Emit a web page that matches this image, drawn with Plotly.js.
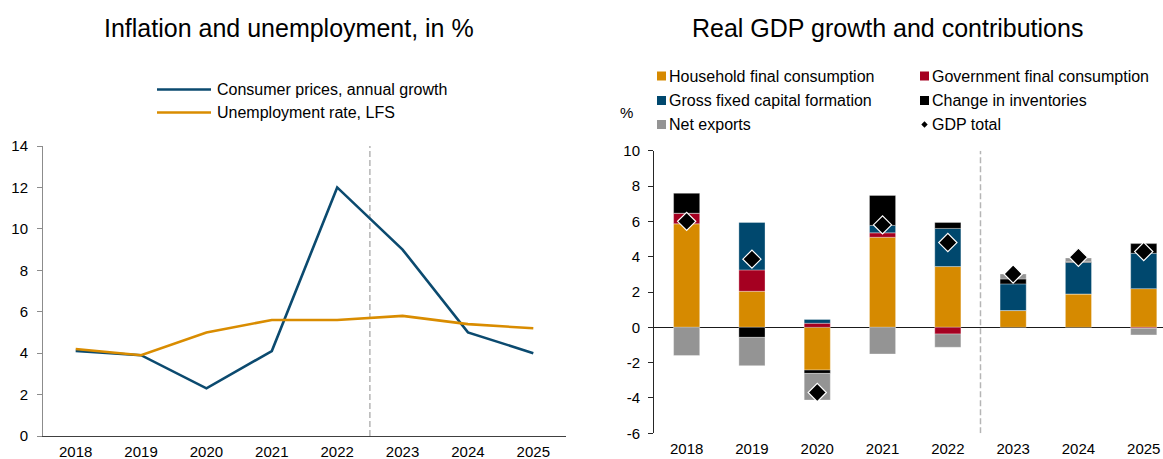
<!DOCTYPE html>
<html>
<head>
<meta charset="utf-8">
<script src="https://cdn.plot.ly/plotly-3.0.1.min.js"></script>
<style>
  html, body { margin: 0; padding: 0; background: #fff; }
  #chart { width: 1163px; height: 459px; }
</style>
</head>
<body>
<div id="chart"></div>
<script>
// ---- Data ----
const years = ['2018', '2019', '2020', '2021', '2022', '2023', '2024', '2025'];

// Left chart: inflation and unemployment, in %
const consumerPrices = [4.1, 3.9, 2.3, 4.1, 12.0, 9.0, 5.0, 4.0];
const unemploymentRate = [4.2, 3.9, 5.0, 5.6, 5.6, 5.8, 5.4, 5.2];

// Right chart: real GDP growth contributions, pp
const householdConsumption = [5.86, 2.04, -2.42, 5.10, 3.44, 0.95, 1.89, 2.19];
const governmentConsumption = [0.60, 1.21, 0.23, 0.25, -0.38, 0.00, 0.00, -0.05];
const grossFixedCapital = [0.00, 2.69, 0.22, 0.42, 2.16, 1.51, 1.78, 2.00];
const changeInventories = [1.13, -0.57, -0.19, 1.70, 0.34, 0.28, 0.05, 0.55];
const netExports = [-1.60, -1.60, -1.51, -1.51, -0.75, 0.28, 0.21, -0.38];
const gdpTotal = [6.00, 3.86, -3.69, 5.80, 4.80, 3.02, 3.97, 4.29];

const leftTicks = [0, 2, 4, 6, 8, 10, 12, 14];
const rightTicks = [-6, -4, -2, 0, 2, 4, 6, 8, 10];

// ---- Styles ----
const W = 1163, H = 459;
const px = x => x / W;
const py = y => 1 - y / H;
const FONT = 'Liberation Sans, Arial, sans-serif';
const C = {
  cpi: '#0B4A6F',
  unemp: '#D98C00',
  household: '#D68A00',
  government: '#A50021',
  gfcf: '#00486E',
  inventories: '#000000',
  netExports: '#949494'
};

const barLine = { color: 'rgba(255,255,255,0.55)', width: 0.6 };
function barTrace(name, values, color) {
  return {
    type: 'bar', name: name, x: years, y: values,
    xaxis: 'x2', yaxis: 'y2',
    marker: { color: color, line: barLine },
    showlegend: false
  };
}

const traces = [
  { type: 'scatter', mode: 'lines', name: 'Consumer prices, annual growth',
    x: years, y: consumerPrices, xaxis: 'x', yaxis: 'y',
    line: { color: C.cpi, width: 2.6 }, showlegend: false },
  { type: 'scatter', mode: 'lines', name: 'Unemployment rate, LFS',
    x: years, y: unemploymentRate, xaxis: 'x', yaxis: 'y',
    line: { color: C.unemp, width: 2.6 }, showlegend: false },
  barTrace('Household final consumption', householdConsumption, C.household),
  barTrace('Government final consumption', governmentConsumption, C.government),
  barTrace('Gross fixed capital formation', grossFixedCapital, C.gfcf),
  barTrace('Change in inventories', changeInventories, C.inventories),
  barTrace('Net exports', netExports, C.netExports),
  { type: 'scatter', mode: 'markers', name: 'GDP total',
    x: years, y: gdpTotal, xaxis: 'x2', yaxis: 'y2',
    marker: { symbol: 'diamond', size: 14, color: '#000', line: { color: '#fff', width: 1.2 } },
    showlegend: false }
];

// ---- Custom legends (shapes + text) ----
const shapes = [
  { type: 'line', xref: 'x', yref: 'y', x0: 4.5, x1: 4.5, y0: 0, y1: 14,
    line: { color: '#b5b5b5', width: 1.5, dash: '6px,3px' }, layer: 'below' },
  { type: 'line', xref: 'x2', yref: 'y2', x0: 4.5, x1: 4.5, y0: -6, y1: 10,
    line: { color: '#b5b5b5', width: 1.5, dash: '6px,3px' }, layer: 'below' },
  // left legend line samples
  { type: 'line', xref: 'paper', yref: 'paper', x0: px(157), x1: px(211), y0: py(89.5), y1: py(89.5),
    line: { color: C.cpi, width: 2.6 } },
  { type: 'line', xref: 'paper', yref: 'paper', x0: px(157), x1: px(211), y0: py(112.5), y1: py(112.5),
    line: { color: C.unemp, width: 2.6 } }
];
const annotations = [
  { text: 'Inflation and unemployment, in %', xref: 'paper', yref: 'paper',
    x: px(289), y: py(28), xanchor: 'center', yanchor: 'middle', showarrow: false,
    font: { family: FONT, size: 25, color: '#000' } },
  { text: 'Real GDP growth and contributions', xref: 'paper', yref: 'paper',
    x: px(887), y: py(28), xanchor: 'center', yanchor: 'middle', showarrow: false,
    font: { family: FONT, size: 25, color: '#000' } },
  { text: 'Consumer prices, annual growth', xref: 'paper', yref: 'paper',
    x: px(215), y: py(89.5), xanchor: 'left', yanchor: 'middle', showarrow: false,
    font: { family: FONT, size: 16, color: '#000' } },
  { text: 'Unemployment rate, LFS', xref: 'paper', yref: 'paper',
    x: px(215), y: py(112.5), xanchor: 'left', yanchor: 'middle', showarrow: false,
    font: { family: FONT, size: 16, color: '#000' } },
  { text: '%', xref: 'paper', yref: 'paper',
    x: px(626), y: py(113), xanchor: 'center', yanchor: 'middle', showarrow: false,
    font: { family: FONT, size: 15, color: '#000' } }
];

const rightLegend = [
  { name: 'Household final consumption', color: C.household, x: 657, y: 76 },
  { name: 'Government final consumption', color: C.government, x: 920, y: 76 },
  { name: 'Gross fixed capital formation', color: C.gfcf, x: 657, y: 100.5 },
  { name: 'Change in inventories', color: C.inventories, x: 920, y: 100.5 },
  { name: 'Net exports', color: C.netExports, x: 657, y: 124.5 },
  { name: 'GDP total', color: null, x: 920, y: 124.5 }
];
rightLegend.forEach(it => {
  if (it.color) {
    shapes.push({ type: 'rect', xref: 'paper', yref: 'paper',
      x0: px(it.x), x1: px(it.x + 9), y0: py(it.y + 4.5), y1: py(it.y - 4.5),
      fillcolor: it.color, line: { width: 0 } });
  } else {
    const cx = it.x + 4.5, cy = it.y, r = 3.2;
    shapes.push({ type: 'path', xref: 'paper', yref: 'paper',
      path: `M ${px(cx)},${py(cy - r)} L ${px(cx + r)},${py(cy)} L ${px(cx)},${py(cy + r)} L ${px(cx - r)},${py(cy)} Z`,
      fillcolor: '#000', line: { width: 0 } });
  }
  annotations.push({ text: it.name, xref: 'paper', yref: 'paper',
    x: px(it.x + 10), y: py(it.y), xanchor: 'left', yanchor: 'middle', showarrow: false,
    font: { family: FONT, size: 16, color: '#000' } });
});

const layout = {
  width: W, height: H,
  margin: { l: 0, r: 0, t: 0, b: 0, pad: 0 },
  paper_bgcolor: '#fff', plot_bgcolor: 'rgba(0,0,0,0)',
  font: { family: FONT, size: 15, color: '#000' },
  showlegend: false,
  barmode: 'relative',
  bargap: 0.6,
  xaxis: {
    domain: [px(43), px(566)], anchor: 'y', type: 'category', range: [-0.5, 7.5],
    showline: true, linecolor: '#404040', linewidth: 1, ticks: '',
    showgrid: false, zeroline: false, tickfont: { size: 15 }, ticklabelstandoff: 2
  },
  yaxis: {
    domain: [py(436), py(146)], anchor: 'x', range: [0, 14],
    tickvals: leftTicks, ticktext: leftTicks.map(String),
    showline: true, linecolor: '#8c8c8c', linewidth: 1,
    ticks: 'outside', ticklen: 5, tickcolor: '#8c8c8c', tickwidth: 1,
    showgrid: false, zeroline: false, tickfont: { size: 15 }, ticklabelstandoff: 6
  },
  xaxis2: {
    domain: [px(654), 1], anchor: 'y2', type: 'category', range: [-0.5, 7.295],
    showline: false, ticks: '', showgrid: false, zeroline: false,
    tickfont: { size: 15 }, ticklabelstandoff: 5
  },
  yaxis2: {
    domain: [py(433.3), py(150.7)], anchor: 'x2', range: [-6, 10],
    tickvals: rightTicks, ticktext: rightTicks.map(String),
    showline: true, linecolor: '#262626', linewidth: 1,
    ticks: 'outside', ticklen: 5, tickcolor: '#262626', tickwidth: 1,
    showgrid: false, zeroline: true, zerolinecolor: '#1a1a1a', zerolinewidth: 1,
    tickfont: { size: 15 }, ticklabelstandoff: 5
  },
  shapes: shapes,
  annotations: annotations
};

Plotly.newPlot('chart', traces, layout, { staticPlot: true, displayModeBar: false });
</script>
</body>
</html>
